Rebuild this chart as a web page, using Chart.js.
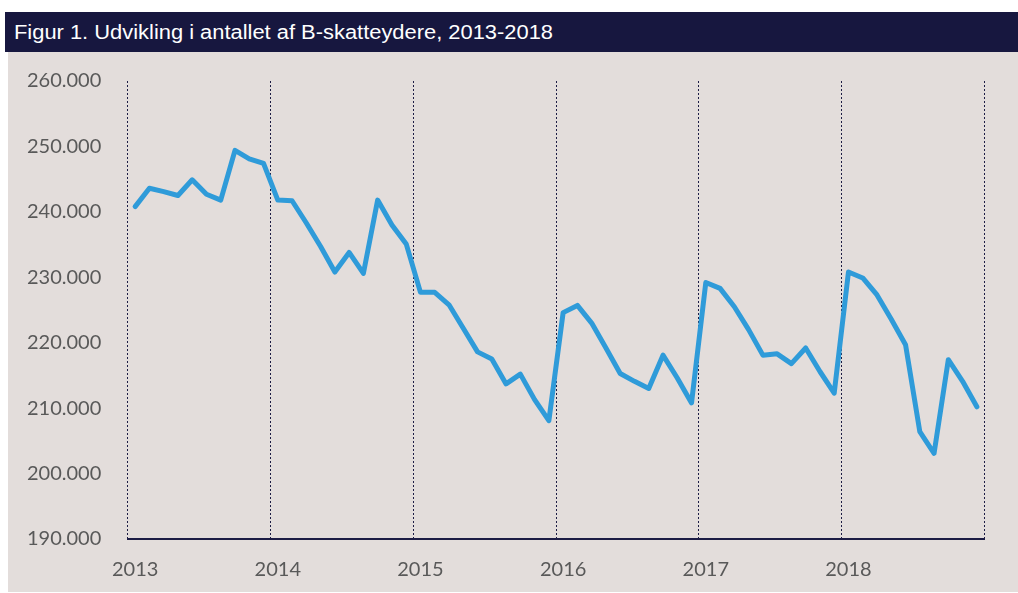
<!DOCTYPE html>
<html>
<head>
<meta charset="utf-8">
<script src="https://cdn.jsdelivr.net/npm/chart.js@4"></script>
<style>
  html, body { margin: 0; padding: 0; background: #ffffff; }
  body { width: 1018px; height: 593px; position: relative; overflow: hidden; }
  #title {
    position: absolute; left: 5px; top: 12px; width: 1013px; height: 40px;
    background: #17173f; color: #ffffff;
    font-family: "Liberation Sans Narrow", "Arial Narrow", "Liberation Sans", sans-serif;
    font-size: 20px; line-height: 40px; white-space: nowrap;
  }
  #title span { display: inline-block; margin-left: 9px; transform-origin: left center; }
  #panel {
    position: absolute; left: 8px; top: 52px; width: 1010px; height: 540px;
    background: #e3dddb;
  }
  canvas { display: block; }
</style>
</head>
<body>
<div id="title"><span id="titleText">Figur 1. Udvikling i antallet af B-skatteydere, 2013-2018</span></div>
<div id="panel"><canvas id="chartCanvas" width="1010" height="540"></canvas></div>
<script>
// 10 observations per year, 2013-2018
const years = ['2013', '2014', '2015', '2016', '2017', '2018'];
const perYear = 10;

const values2013 = [240800, 243600, 243100, 242500, 244900, 242700, 241800, 249400, 248100, 247400];
const values2014 = [241800, 241700, 238300, 234700, 230800, 233800, 230600, 241800, 238000, 235100];
const values2015 = [227700, 227700, 225800, 222200, 218600, 217500, 213700, 215200, 211300, 208100];
const values2016 = [224600, 225700, 223000, 219200, 215300, 214100, 213000, 218100, 214600, 210800];
const values2017 = [229200, 228300, 225500, 222000, 218100, 218300, 216800, 219200, 215600, 212300];
const values2018 = [230800, 229900, 227300, 223600, 219700, 206400, 203100, 217400, 214100, 210200];

const yTicks = [190000, 200000, 210000, 220000, 230000, 240000, 250000, 260000];

const labels = [];
years.forEach(y => { for (let i = 0; i < perYear; i++) labels.push(y); });
const series = [].concat(values2013, values2014, values2015, values2016, values2017, values2018);

// squeeze title to the width it has in the picture
const t = document.getElementById('titleText');
const w = t.getBoundingClientRect().width;
if (w > 0) t.style.transform = 'scaleX(' + (539 / w) + ')';

const navy = '#1c1c44';
const textColor = '#595959';
const tickFont = { family: 'Lato', size: 20 };

const chartContainer = document.getElementById('chartCanvas');

new Chart(chartContainer, {
  type: 'line',
  data: {
    labels: labels,
    datasets: [{
      data: series,
      borderColor: '#2f9bd9',
      borderWidth: 5,
      borderJoinStyle: 'round',
      borderCapStyle: 'round',
      pointRadius: 0,
      tension: 0,
      fill: false,
    }],
  },
  options: {
    responsive: false,
    animation: false,
    layout: { padding: { top: 29, right: 34, left: 19, bottom: 0 } },
    plugins: { legend: { display: false }, tooltip: { enabled: false } },
    scales: {
      x: {
        type: 'category',
        offset: true,
        grid: {
          offset: true,
          drawTicks: false,
          lineWidth: 1,
          color: ctx => (ctx.type !== 'tick' || ctx.index % perYear === 0) ? navy : 'rgba(0,0,0,0)',
        },
        border: { display: true, color: navy, width: 2, dash: [2, 2] },
        ticks: {
          autoSkip: false,
          maxRotation: 0,
          padding: 19,
          color: textColor,
          font: tickFont,
          callback: (v, i) => (i % perYear === 0 ? labels[i] : ''),
        },
        afterFit: s => { s.height = 53; },
      },
      y: {
        min: 190000,
        max: 260000,
        grid: { display: false, drawTicks: false },
        border: { display: false },
        afterBuildTicks: s => { s.ticks = yTicks.map(v => ({ value: v })); },
        ticks: {
          padding: 0,
          crossAlign: 'far',
          color: textColor,
          font: tickFont,
          callback: v => Math.round(v / 1000) + '.000',
        },
        afterFit: s => { s.width = 101; },
      },
    },
  },
});
</script>
</body>
</html>
